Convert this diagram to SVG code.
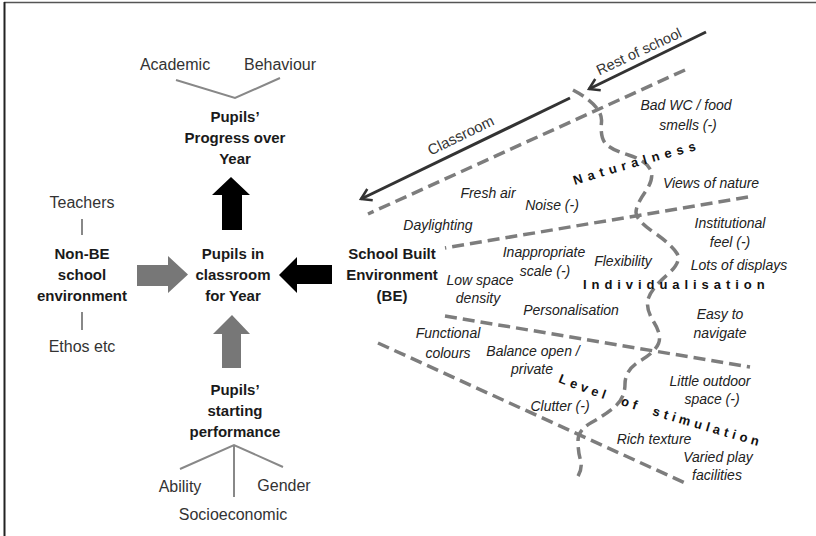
<svg xmlns="http://www.w3.org/2000/svg" width="816" height="536" viewBox="0 0 816 536">
<defs>
<style>
text{font-family:"Liberation Sans",Arial,sans-serif;}
.reg{font-size:16px;fill:#333;text-anchor:middle;}
.bold{font-size:15px;font-weight:bold;fill:#1a1a1a;text-anchor:middle;}
.it{font-size:14px;font-style:italic;fill:#222;text-anchor:middle;}
.spaced{font-size:13px;font-weight:bold;fill:#111;letter-spacing:3.4px;}
.thin{stroke:#888;stroke-width:2;fill:none;}
.dash{stroke:#7d7d7d;stroke-width:3.5;fill:none;stroke-dasharray:12 6;}
.sol{stroke:#333;stroke-width:3;fill:none;marker-end:url(#chev);}
.blk{fill:#000;}
.gry{fill:#777;}
</style>
<marker id="chev" viewBox="0 0 12 12" refX="10" refY="6" markerWidth="5" markerHeight="5" orient="auto" markerUnits="strokeWidth">
<path d="M2,1 L10,6 L2,11" fill="none" stroke="#333" stroke-width="2"/>
</marker>
<path id="natPath" d="M575,185 Q622,170 715,145"/>
<path id="losPath" d="M558,382 Q620,408 780,452"/>
</defs>
<rect width="816" height="536" fill="#fff"/>
<line x1="4" y1="2.5" x2="816" y2="2.5" stroke="#555" stroke-width="1.5"/>
<line x1="4.5" y1="2" x2="4.5" y2="536" stroke="#222" stroke-width="2"/>

<g id="connectors">
<polyline class="thin" points="176,80 235,98 280,78"/>
<line class="thin" x1="82" y1="219" x2="82" y2="235"/>
<line class="thin" x1="82" y1="312" x2="82" y2="330"/>
<polyline class="thin" points="180,469 234,445 283,467"/>
<line class="thin" x1="234" y1="445" x2="234" y2="497"/>
<polygon class="blk" points="231,177 250,195 242,195 242,230 222,230 222,195 212,195"/>
<polygon class="gry" points="137,265 168,265 168,256 188,274.5 168,293 168,286 137,286"/>
<polygon class="blk" points="332,265 297,265 297,257 279,275 297,293 297,284 332,284"/>
<polygon class="gry" points="232,315 250,334 241,334 241,368 222,368 222,334 213,334"/>
<line class="sol" x1="706" y1="32" x2="589" y2="89"/>
<line class="sol" x1="570" y1="98" x2="361" y2="199"/>
<line class="dash" x1="685" y1="70" x2="368" y2="214"/>
<line class="dash" x1="748" y1="197" x2="445" y2="248"/>
<line class="dash" x1="445" y1="316" x2="750" y2="367"/>
<line class="dash" x1="378" y1="343" x2="685" y2="483"/>
<path class="dash" d="M573,90 Q603,106 601.5,122 Q600,138 606,144 Q612,150 628.5,155 Q645,160 650,169 Q655,178 645.5,191.5 Q636,205 636,212.5 Q636,220 654,232.5 Q672,245 677,253.5 Q682,262 667,275 Q652,288 648.5,298 Q645,308 653.5,321.5 Q662,335 658.5,343.5 Q655,352 640,361 Q625,370 625,384 Q625,398 615,406.5 Q605,415 591.5,422.5 Q578,430 578,441 Q578,452 580.5,460 Q583,468 577,478"/>
</g>

<g id="academic"><text class="reg" x="175" y="70">Academic</text></g>
<g id="behaviour"><text class="reg" x="280" y="70">Behaviour</text></g>
<g id="progress"><text class="bold"><tspan x="235" y="122">Pupils’</tspan><tspan x="235" y="143">Progress over</tspan><tspan x="235" y="164">Year</tspan></text></g>
<g id="teachers"><text class="reg" x="82" y="208">Teachers</text></g>
<g id="nonbe"><text class="bold"><tspan x="82" y="259">Non-BE</tspan><tspan x="82" y="280">school</tspan><tspan x="82" y="301">environment</tspan></text></g>
<g id="ethos"><text class="reg" x="82" y="352">Ethos etc</text></g>
<g id="classroom-node"><text class="bold"><tspan x="233" y="259">Pupils in</tspan><tspan x="233" y="280">classroom</tspan><tspan x="233" y="301">for Year</tspan></text></g>
<g id="be"><text class="bold"><tspan x="392" y="259">School Built</tspan><tspan x="392" y="280">Environment</tspan><tspan x="392" y="301">(BE)</tspan></text></g>
<g id="starting"><text class="bold"><tspan x="235" y="395">Pupils’</tspan><tspan x="235" y="416">starting</tspan><tspan x="235" y="437">performance</tspan></text></g>
<g id="ability"><text class="reg" x="180" y="492">Ability</text></g>
<g id="gender"><text class="reg" x="284" y="491">Gender</text></g>
<g id="socio"><text class="reg" x="233" y="520">Socioeconomic</text></g>

<g id="rest-label"><text class="reg" style="font-size:14.5px" transform="translate(641,56) rotate(-25)" x="0" y="0">Rest of school</text></g>
<g id="classroom-label"><text class="reg" style="font-size:15px" transform="translate(463,140) rotate(-26)" x="0" y="0">Classroom</text></g>

<g id="naturalness"><text class="spaced" style="letter-spacing:5.2px"><textPath href="#natPath">Naturalness</textPath></text></g>
<g id="individualisation"><text class="spaced" x="583" y="289" textLength="185" lengthAdjust="spacing">Individualisation</text></g>
<g id="stimulation"><text class="spaced" style="letter-spacing:4.1px;word-spacing:5px"><textPath href="#losPath">Level of stimulation</textPath></text></g>

<g id="factors">
<text class="it"><tspan x="686" y="110">Bad WC / food</tspan><tspan x="688" y="130">smells (-)</tspan></text>
<text class="it" x="711" y="188">Views of nature</text>
<text class="it" x="488" y="198">Fresh air</text>
<text class="it" x="552" y="210">Noise (-)</text>
<text class="it" x="438" y="230">Daylighting</text>
<text class="it"><tspan x="730" y="228">Institutional</tspan><tspan x="730" y="247">feel (-)</tspan></text>
<text class="it"><tspan x="544" y="257">Inappropriate</tspan><tspan x="545" y="276">scale (-)</tspan></text>
<text class="it" x="623" y="266">Flexibility</text>
<text class="it" x="739" y="270">Lots of displays</text>
<text class="it"><tspan x="480" y="285">Low space</tspan><tspan x="478" y="303">density</tspan></text>
<text class="it" x="571" y="315">Personalisation</text>
<text class="it"><tspan x="720" y="319">Easy to</tspan><tspan x="720" y="338">navigate</tspan></text>
<text class="it"><tspan x="448" y="338">Functional</tspan><tspan x="448" y="358">colours</tspan></text>
<text class="it"><tspan x="533" y="356">Balance open /</tspan><tspan x="532" y="374">private</tspan></text>
<text class="it"><tspan x="710" y="386">Little outdoor</tspan><tspan x="712" y="404">space (-)</tspan></text>
<text class="it" x="560" y="411">Clutter (-)</text>
<text class="it" x="654" y="444">Rich texture</text>
<text class="it"><tspan x="718" y="462">Varied play</tspan><tspan x="717" y="480">facilities</tspan></text>
</g>
</svg>
